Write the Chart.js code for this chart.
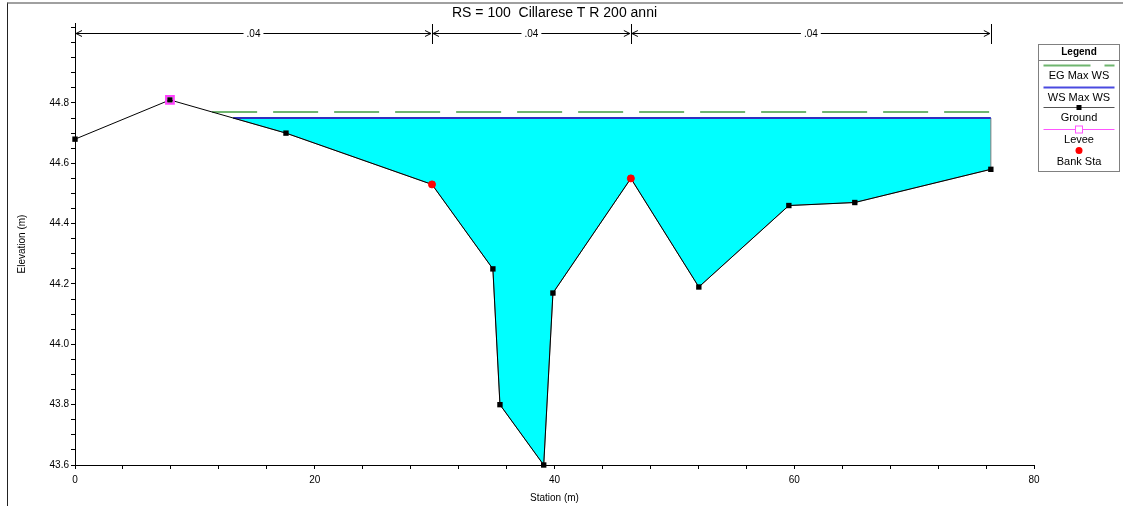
<!DOCTYPE html>
<html>
<head>
<meta charset="utf-8">
<title>RS = 100 Cillarese</title>
<script src="https://cdn.jsdelivr.net/npm/chart.js@4.4.1/dist/chart.umd.min.js"></script>
<style>
  body { margin: 0; background: #fff; overflow: hidden; }
  #wrap { position: relative; width: 1123px; height: 506px; }
  #frame { position: absolute; left: 7px; top: 2px; right: 0; bottom: 0;
           border-top: 2px solid #a0a0a0; border-left: 1px solid #222; pointer-events: none; }
</style>
</head>
<body>
<div id="wrap">
  <canvas id="grafico" width="1123" height="506"></canvas>
  <div id="frame"></div>
</div>
<script>
// sezione trasversale: stazione (m) e quota del terreno (m)
var stazioni = [0, 7.92, 17.6, 29.78, 34.86, 35.45, 39.1, 39.87, 46.37, 52.04, 59.55, 65.05, 76.4];
var quote = [44.68, 44.81, 44.70, 44.53, 44.25, 43.80, 43.60, 44.17, 44.55, 44.19, 44.46, 44.47, 44.58];

var argineSta = [7.92];
var argineQuota = [44.81];
var spondeSta = [29.78, 46.37];
var spondeQuota = [44.53, 44.55];

var quotaWS = 44.75; // pelo libero
var quotaEG = 44.77; // linea dell'energia

// coefficienti di Manning tra le sponde
var manningLimiti = [0, 29.78, 46.37, 76.4];
var manningValori = ['.04', '.04', '.04'];

var xTickLabels = [0, 20, 40, 60, 80];
var yTickLabels = [43.6, 43.8, 44.0, 44.2, 44.4, 44.6, 44.8];
var legendaVoci = ['EG Max WS', 'WS Max WS', 'Ground', 'Levee', 'Bank Sta'];

var FONT = "'Liberation Sans', Arial, sans-serif";

// primo punto in cui il terreno scende sotto la quota data
function intersezione(quota) {
    for (var i = 0; i < quote.length - 1; i++) {
        if (quote[i] >= quota && quote[i + 1] < quota) {
            var t = (quote[i] - quota) / (quote[i] - quote[i + 1]);
            return { i: i, x: stazioni[i] + t * (stazioni[i + 1] - stazioni[i]) };
        }
    }
    return { i: 0, x: stazioni[0] };
}

var ultimo = stazioni[stazioni.length - 1];
var inizioWS = intersezione(quotaWS);
var inizioEG = intersezione(quotaEG);

var terreno = stazioni.map(function(s, i) { return { x: s, y: quote[i] }; });

var acqua = [{ x: inizioWS.x, y: quotaWS }];
for (var k = inizioWS.i + 1; k < stazioni.length; k++) {
    acqua.push({ x: stazioni[k], y: quote[k] });
}
acqua.push({ x: ultimo, y: quotaWS });

var lineaWS = [{ x: inizioWS.x, y: quotaWS }, { x: ultimo, y: quotaWS }];
var lineaEG = [{ x: inizioEG.x, y: quotaEG }, { x: ultimo, y: quotaEG }];

// barra dei coefficienti di Manning sopra il grafico
var manningPlugin = {
    id: 'manning',
    afterDraw: function(chart) {
        var ctx = chart.ctx;
        var xs = chart.scales.x;
        var top = chart.chartArea.top;
        var y = top + 10;
        ctx.save();
        ctx.strokeStyle = '#000';
        ctx.fillStyle = '#000';
        ctx.lineWidth = 1;
        ctx.font = '10px ' + FONT;
        ctx.textAlign = 'center';
        ctx.textBaseline = 'middle';
        manningLimiti.forEach(function(s) {
            var px = Math.round(xs.getPixelForValue(s)) + 0.5;
            ctx.beginPath();
            ctx.moveTo(px, top + 1);
            ctx.lineTo(px, top + 21);
            ctx.stroke();
        });
        for (var i = 0; i < manningValori.length; i++) {
            var x1 = xs.getPixelForValue(manningLimiti[i]) + 1;
            var x2 = xs.getPixelForValue(manningLimiti[i + 1]) - 1;
            var xm = (x1 + x2) / 2;
            var w = ctx.measureText(manningValori[i]).width / 2 + 3;
            ctx.beginPath();
            ctx.moveTo(x1, y + 0.5); ctx.lineTo(xm - w, y + 0.5);
            ctx.moveTo(xm + w, y + 0.5); ctx.lineTo(x2, y + 0.5);
            ctx.stroke();
            ctx.beginPath();
            ctx.moveTo(x1 + 6, y - 2.5); ctx.lineTo(x1, y + 0.5); ctx.lineTo(x1 + 6, y + 3.5);
            ctx.moveTo(x2 - 6, y - 2.5); ctx.lineTo(x2, y + 0.5); ctx.lineTo(x2 - 6, y + 3.5);
            ctx.stroke();
            ctx.fillText(manningValori[i], xm, y + 1);
        }
        ctx.restore();
    }
};

// legenda a riquadro sulla destra
var legendaPlugin = {
    id: 'legenda',
    afterDraw: function(chart) {
        var ctx = chart.ctx;
        var L = 1038.5, T = 44.5, W = 81, H = 127;
        var cx = L + W / 2;
        ctx.save();
        ctx.fillStyle = '#fff';
        ctx.fillRect(L, T, W, H);
        ctx.strokeStyle = '#808080';
        ctx.lineWidth = 1;
        ctx.strokeRect(L, T, W, H);
        ctx.beginPath();
        ctx.moveTo(L, T + 16); ctx.lineTo(L + W, T + 16);
        ctx.stroke();
        ctx.fillStyle = '#000';
        ctx.textAlign = 'center';
        ctx.textBaseline = 'middle';
        ctx.font = 'bold 10px ' + FONT;
        ctx.fillText('Legend', cx, T + 8);
        ctx.font = '11px ' + FONT;

        var x1 = L + 5, x2 = L + W - 5;
        // EG
        ctx.strokeStyle = '#6fb56f'; ctx.lineWidth = 2;
        ctx.setLineDash([47, 14]);
        ctx.beginPath(); ctx.moveTo(x1, T + 21); ctx.lineTo(x2, T + 21); ctx.stroke();
        ctx.setLineDash([]);
        ctx.fillText(legendaVoci[0], cx, T + 31);
        // WS
        ctx.strokeStyle = '#4a4ae0'; ctx.lineWidth = 2;
        ctx.beginPath(); ctx.moveTo(x1, T + 43); ctx.lineTo(x2, T + 43); ctx.stroke();
        ctx.fillText(legendaVoci[1], cx, T + 53);
        // Ground
        ctx.strokeStyle = '#555'; ctx.lineWidth = 1;
        ctx.beginPath(); ctx.moveTo(x1, T + 63); ctx.lineTo(x2, T + 63); ctx.stroke();
        ctx.fillRect(cx - 2.5, T + 60.5, 5, 5);
        ctx.fillText(legendaVoci[2], cx, T + 73);
        // Levee
        ctx.strokeStyle = '#ff55ff'; ctx.lineWidth = 1;
        ctx.beginPath(); ctx.moveTo(x1, T + 85); ctx.lineTo(x2, T + 85); ctx.stroke();
        ctx.fillStyle = '#fff';
        ctx.fillRect(cx - 3.5, T + 81.5, 7, 7);
        ctx.strokeRect(cx - 3.5, T + 81.5, 7, 7);
        ctx.fillStyle = '#000';
        ctx.fillText(legendaVoci[3], cx, T + 95);
        // Bank Sta
        ctx.fillStyle = '#ff0000';
        ctx.beginPath(); ctx.arc(cx, T + 106, 3.5, 0, Math.PI * 2); ctx.fill();
        ctx.fillStyle = '#000';
        ctx.fillText(legendaVoci[4], cx, T + 117);
        ctx.restore();
    }
};

const config = {
    type: 'line',
    data: {
        datasets: [
            {
                label: 'Bank Sta',
                data: spondeSta.map(function(s, i) { return { x: s, y: spondeQuota[i] }; }),
                showLine: false,
                pointStyle: 'circle',
                pointRadius: 3.5,
                pointBackgroundColor: '#ff0000',
                pointBorderColor: '#ff0000',
                clip: false,
                order: 0
            },
            {
                label: 'Levee',
                data: argineSta.map(function(s, i) { return { x: s, y: argineQuota[i] }; }),
                showLine: false,
                pointStyle: 'rect',
                pointRadius: 5.5,
                pointBorderWidth: 2,
                pointBackgroundColor: 'rgba(0,0,0,0)',
                pointBorderColor: '#ff40ff',
                clip: false,
                order: 1
            },
            {
                label: 'Ground',
                data: terreno,
                borderColor: '#000',
                borderWidth: 1,
                pointStyle: 'rect',
                pointRadius: 3.8,
                pointBackgroundColor: '#000',
                pointBorderColor: '#000',
                pointBorderWidth: 0,
                clip: false,
                order: 2
            },
            {
                label: 'WS Max WS',
                data: lineaWS,
                borderColor: '#2f2fc0',
                borderWidth: 2,
                pointRadius: 0,
                order: 3
            },
            {
                label: 'EG Max WS',
                data: lineaEG,
                borderColor: '#6fb56f',
                borderWidth: 2,
                borderDash: [45, 16],
                pointRadius: 0,
                order: 4
            },
            {
                label: 'acqua',
                data: acqua,
                borderColor: '#777',
                borderWidth: 1,
                backgroundColor: '#00ffff',
                fill: { value: quotaWS },
                pointRadius: 0,
                order: 5
            }
        ]
    },
    options: {
        responsive: false,
        animation: false,
        devicePixelRatio: 1,
        layout: { padding: { left: 0, right: 89, top: 0, bottom: 0 } },
        plugins: {
            legend: { display: false },
            tooltip: { enabled: false },
            title: {
                display: true,
                fullSize: false,
                text: 'RS = 100  Cillarese T R 200 anni',
                color: '#000',
                font: { family: FONT, size: 14, weight: 'normal' },
                padding: { top: 5, bottom: 1.2 }
            }
        },
        scales: {
            x: {
                type: 'linear',
                min: 0,
                max: 80,
                afterFit: function(scale) { scale.height = 41; },
                afterBuildTicks: function(scale) {
                    var t = [];
                    for (var v = 0; v <= 80; v += 4) t.push({ value: v });
                    scale.ticks = t;
                },
                ticks: {
                    autoSkip: false,
                    maxRotation: 0,
                    padding: 5,
                    color: '#000',
                    font: { family: FONT, size: 10 },
                    callback: function(v) { return xTickLabels.indexOf(v) >= 0 ? String(v) : ''; }
                },
                grid: { drawOnChartArea: false, drawTicks: true, tickLength: 4, color: '#000' },
                border: { color: '#000', width: 1 },
                title: {
                    display: true,
                    text: 'Station (m)',
                    color: '#000',
                    font: { family: FONT, size: 10 },
                    padding: { top: 0, bottom: 2 }
                }
            },
            y: {
                type: 'linear',
                min: 43.6,
                max: 45.065,
                afterFit: function(scale) { scale.width = 75; },
                afterBuildTicks: function(scale) {
                    var t = [];
                    for (var n = 0; n <= 29; n++) t.push({ value: Math.round((43.6 + n * 0.05) * 100) / 100 });
                    scale.ticks = t;
                },
                ticks: {
                    autoSkip: false,
                    padding: 2,
                    color: '#000',
                    font: { family: FONT, size: 10 },
                    callback: function(v) {
                        for (var i = 0; i < yTickLabels.length; i++) {
                            if (Math.abs(yTickLabels[i] - v) < 1e-6) return yTickLabels[i].toFixed(1);
                        }
                        return '';
                    }
                },
                grid: { drawOnChartArea: false, drawTicks: true, tickLength: 4, color: '#000' },
                border: { color: '#000', width: 1 },
                title: {
                    display: true,
                    text: 'Elevation (m)',
                    color: '#000',
                    font: { family: FONT, size: 10 },
                    padding: { top: 16, bottom: 0 }
                }
            }
        }
    },
    plugins: [manningPlugin, legendaPlugin]
};

var grafico = new Chart(document.getElementById('grafico'), config);
</script>
</body>
</html>
